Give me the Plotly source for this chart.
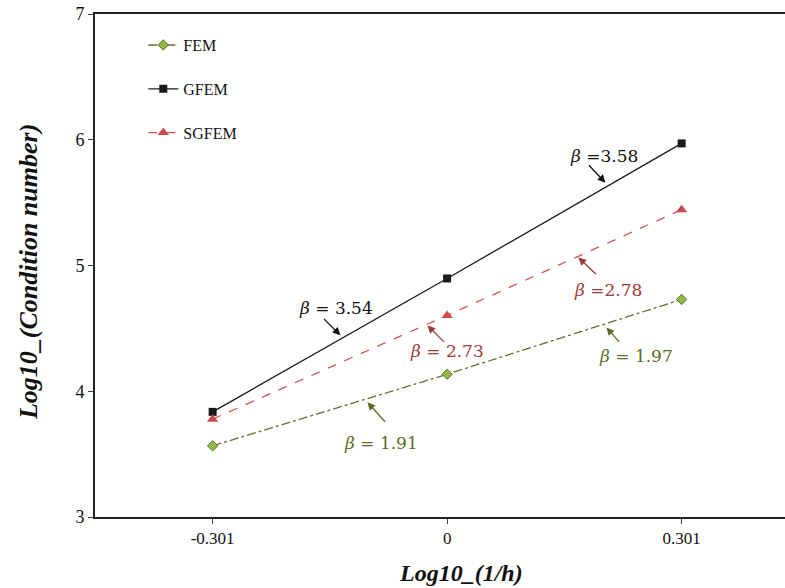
import plotly.graph_objects as go

x_vals = [-0.301, 0, 0.301]
x_labels = ["-0.301", "0", "0.301"]
fem = [3.566, 4.135, 4.730]
gfem = [3.836, 4.897, 5.971]
sgfem = [3.778, 4.603, 5.444]
y_ticks = [3, 4, 5, 6, 7]

slope_labels = ["β = 3.54", "β =3.58", "β = 2.73", "β =2.78", "β = 1.91", "β = 1.97"]
x_title = "Log10_(1/h)"
y_title = "Log10_(Condition number)"

PX0, PY0, SX, SY = 446.7, 517.0, 779.0, 126.0
def dx(px):
    return (px - PX0) / SX
def dy(py):
    return 3 + (PY0 - py) / SY

ann_specs = [
    (slope_labels[0], (336, 308), (340, 335), (322, 317), "#111111"),
    (slope_labels[1], (604, 155), (605, 182), (587, 163), "#111111"),
    (slope_labels[2], (447, 351), (427, 325), (445, 343), "#9e3a35"),
    (slope_labels[3], (608, 290), (578, 257), (597, 275), "#9e3a35"),
    (slope_labels[4], (381, 443), (367, 402), (386, 423), "#5b6b28"),
    (slope_labels[5], (636, 356), (606, 327), (620, 343), "#5b6b28"),
]

fig = go.Figure()
fig.add_trace(go.Scatter(
    x=x_vals, y=fem, name="FEM", mode="lines+markers", legendgroup="a",
    line=dict(color="#5f7330", width=1.3, dash="dashdot"),
    marker=dict(symbol="diamond", size=8, color="#8fba45", line=dict(color="#5f7330", width=1)),
))
fig.add_trace(go.Scatter(
    x=x_vals, y=gfem, name="GFEM", mode="lines+markers", legendgroup="b",
    line=dict(color="#1a1a1a", width=1.3),
    marker=dict(symbol="square", size=8, color="#1a1a1a"),
))
fig.add_trace(go.Scatter(
    x=x_vals, y=sgfem, name="SGFEM", mode="lines+markers", legendgroup="c",
    line=dict(color="#d25555", width=1.3, dash="dash"),
    marker=dict(symbol="triangle-up", size=10, color="#cc4c4c"),
))

annotations = []
for label, tpos, head, tail, col in ann_specs:
    txt = "<i>β</i>" + label[1:]
    annotations.append(dict(
        x=dx(tpos[0]), y=dy(tpos[1]), xref="x", yref="y", text=txt, showarrow=False,
        font=dict(family="DejaVu Serif", size=17, color=col),
        xanchor="center", yanchor="middle",
    ))
    annotations.append(dict(
        x=dx(head[0]), y=dy(head[1]), ax=dx(tail[0]), ay=dy(tail[1]),
        xref="x", yref="y", axref="x", ayref="y", text="", showarrow=True,
        arrowhead=2, arrowsize=1.2, arrowwidth=1.3, arrowcolor=col,
    ))

annotations.append(dict(
    x=0.530, y=-0.111, xref="paper", yref="paper", showarrow=False,
    text="<b><i>" + x_title + "</i></b>", xanchor="center", yanchor="middle",
    font=dict(family="Liberation Serif", size=24, color="#111111"),
))
annotations.append(dict(
    x=-0.097, y=0.487, xref="paper", yref="paper", showarrow=False, textangle=-90,
    text="<b><i>" + y_title + "</i></b>", xanchor="center", yanchor="middle",
    font=dict(family="Liberation Serif", size=26, color="#111111"),
))

fig.update_layout(
    width=785, height=588,
    margin=dict(l=95, r=0, t=14, b=71),
    paper_bgcolor="white", plot_bgcolor="white",
    showlegend=True,
    legend=dict(
        x=0.07, y=0.972, xanchor="left", yanchor="top",
        font=dict(family="Liberation Serif", size=16, color="#111111"),
        tracegroupgap=20, bgcolor="rgba(0,0,0,0)",
    ),
    annotations=annotations,
    xaxis=dict(
        range=[-0.452, 0.4337], tickmode="array", tickvals=x_vals, ticktext=x_labels,
        showgrid=False, zeroline=False, showline=True, linecolor="#222222", linewidth=2,
        mirror=True, ticks="outside", ticklen=5, tickcolor="#444444",
        tickfont=dict(family="Liberation Serif", size=17, color="#111111"),
    ),
    yaxis=dict(
        range=[3, 7], tickvals=y_ticks,
        showgrid=False, zeroline=False, showline=True, linecolor="#222222", linewidth=2,
        ticks="outside", ticklen=5, tickcolor="#444444",
        tickfont=dict(family="Liberation Serif", size=18, color="#111111"),
    ),
)

fig.write_html("out.html")
